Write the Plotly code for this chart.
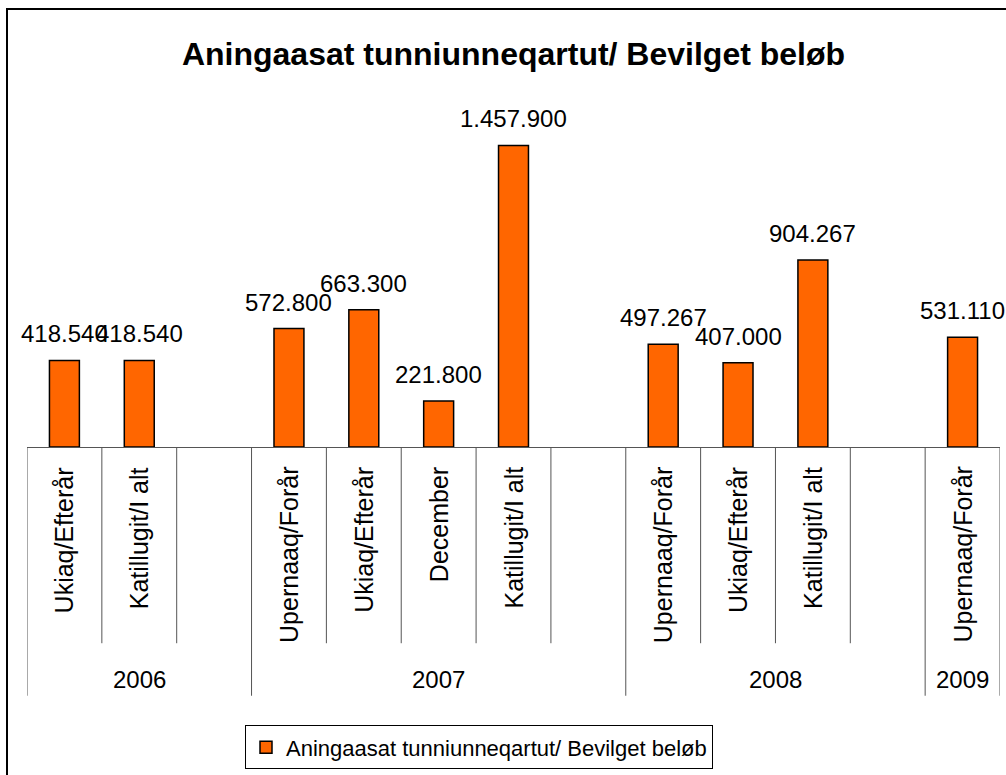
import plotly.graph_objects as go

# ---- data ----
sub_labels = ["Ukiaq/Efterår", "Katillugit/I alt", "",
              "Upernaaq/Forår", "Ukiaq/Efterår", "December", "Katillugit/I alt", "",
              "Upernaaq/Forår", "Ukiaq/Efterår", "Katillugit/I alt", "",
              "Upernaaq/Forår"]
slot_years = ["2006"] * 3 + ["2007"] * 5 + ["2008"] * 4 + ["2009"]
years = ["2006", "2007", "2008", "2009"]
values = [418540, 418540, None,
          572800, 663300, 221800, 1457900, None,
          497267, 407000, 904267, None,
          531110]
series_name = "Aningaasat tunniunneqartut/ Bevilget beløb"
title_text = "Aningaasat tunniunneqartut/ Bevilget beløb"

FONT = "Liberation Sans, Arial, sans-serif"
W, H = 1006, 775
L, R, T, B = 27, 6, 116, 325
plot_h = H - T - B

xs = list(range(len(sub_labels)))


def fmt(v):
    return f"{v:,}".replace(",", ".")


fig = go.Figure()
fig.add_trace(go.Bar(
    x=xs, y=values, width=0.4, name=series_name, showlegend=True,
    marker=dict(color="#FF6600", line=dict(color="#000000", width=1.5)),
))

annotations = []
# data labels
for x, v in zip(xs, values):
    if v is None:
        continue
    annotations.append(dict(x=x, y=v, xref="x", yref="y", text=fmt(v), showarrow=False,
                            yanchor="bottom", yshift=11,
                            font=dict(family=FONT, size=24, color="#000000")))
# category labels
for x, lab in zip(xs, sub_labels):
    if not lab:
        continue
    annotations.append(dict(x=x, y=0, xref="x", yref="y", text=lab, showarrow=False,
                            textangle=-90, yanchor="top", xanchor="center", yshift=-18,
                            font=dict(family=FONT, size=25, color="#000000")))
# year labels
for yr in years:
    idx = [i for i, s in enumerate(slot_years) if s == yr]
    lo, hi = idx[0] - 0.5, idx[-1] + 0.5
    annotations.append(dict(x=(lo + hi) / 2, y=0, xref="x", yref="y", text=yr, showarrow=False,
                            yanchor="middle", yshift=-232,
                            font=dict(family=FONT, size=24, color="#000000")))

shapes = []
inner_bottom = -(648 - (H - B)) / plot_h
group_bottom = -(701 - (H - B)) / plot_h
# separators
boundaries = [-0.5] + [i + 0.5 for i in range(len(xs))]
for b in boundaries:
    left_i = int(b - 0.5) if b > -0.5 else None
    right_i = int(b + 0.5) if b + 0.5 < len(xs) else None
    is_group = (left_i is None or right_i is None or slot_years[left_i] != slot_years[right_i])
    shapes.append(dict(type="line", xref="x", yref="paper", x0=b, x1=b, y0=0,
                       y1=group_bottom if is_group else inner_bottom,
                       line=dict(color="#555555", width=1)))
# outer chart border
shapes.append(dict(type="rect", xref="paper", yref="paper",
                   x0=(7 - L) / (W - L - R), x1=(1015 - L) / (W - L - R),
                   y0=-(790 - (H - B)) / plot_h, y1=((H - B) - 8) / plot_h,
                   line=dict(color="#000000", width=2), layer="below"))

fig.update_layout(
    width=W, height=H,
    margin=dict(l=L, r=R, t=T, b=B),
    paper_bgcolor="white", plot_bgcolor="white",
    title=dict(text="<b>" + title_text + "</b>", x=0.5, xref="paper", xanchor="center",
               y=1 - 54 / H, yref="container", yanchor="middle",
               font=dict(family=FONT, size=32, color="#000000")),
    xaxis=dict(range=[-0.5, len(xs) - 0.5], showticklabels=False, ticks="", showgrid=False,
               zeroline=False, showline=True, linecolor="#555555", linewidth=1, fixedrange=True),
    yaxis=dict(range=[0, 1600000], visible=False, showgrid=False, zeroline=False, fixedrange=True),
    legend=dict(x=(245 - L) / (W - L - R), xanchor="left",
                y=-(731 - (H - B)) / plot_h, yanchor="top",
                bordercolor="#000000", borderwidth=1, bgcolor="white",
                font=dict(family=FONT, size=22, color="#000000")),
    annotations=annotations, shapes=shapes,
    font=dict(family=FONT),
)

fig.write_html("out.html", config={"displayModeBar": False},
               post_script="document.body.style.margin='0';document.body.style.overflow='hidden';")
